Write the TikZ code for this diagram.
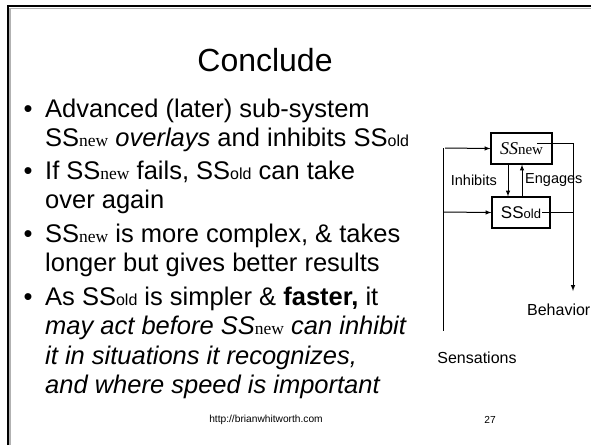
\documentclass[tikz,border=0pt]{standalone}
\usepackage{fontspec}
\setmainfont{Liberation Sans}
\newfontfamily\tnr{Liberation Serif}
\usetikzlibrary{arrows,positioning}
\newcommand{\fs}[1]{\fontsize{#1}{#1}\selectfont}
\newcommand{\SSnew}{SS{\tnr\upshape\fs{17.5}new}}
\newcommand{\SSold}{SS{\fs{16}old}}
\tikzset{
  line/.style={anchor=base west,inner sep=0pt,font=\fs{25.5}},
  dot/.style={anchor=base west,inner sep=0pt,font=\fs{25.5}},
  ssbox/.style={draw,line width=1.2pt,minimum height=31pt,inner sep=0pt},
  lab/.style={inner sep=0pt,font=\fs{14.5}},
  wire/.style={line width=1pt},
  >=latex
}

\begin{document}
\begin{tikzpicture}[x=1pt,y=-1pt]
\useasboundingbox (0,0) rectangle (591,445);
% slide frame
\draw[gray!60,line width=1.5pt] (10,445) -- (10,8.5) -- (591,8.5);
\draw[line width=2.2pt] (7.8,445) -- (7.8,6) -- (591,6);
\node (title) [anchor=base,inner sep=0pt,font=\fs{32}] at (265,71) {Conclude};

% bullets
\node (d1) [dot] at (23.5,117) {\textbullet};
\node (b1a) [line] at (45,117) {Advanced (later) sub-system};
\node (b1b) [line] at (45,146.5) {\SSnew{} \textit{overlays} and inhibits \SSold};
\node (d2) [dot] at (23.5,179) {\textbullet};
\node (b2a) [line] at (45,179) {If \SSnew{} fails, \SSold{} can take};
\node (b2b) [line] at (45,208.5) {over again};
\node (d3) [dot] at (23.5,242) {\textbullet};
\node (b3a) [line] at (45,242) {\SSnew{} is more complex, \& takes};
\node (b3b) [line] at (45,271.5) {longer but gives better results};
\node (d4) [dot] at (23.5,305) {\textbullet};
\node (b4a) [line] at (45,305) {As \SSold{} is simpler \& \textbf{faster,} it};
\node (b4b) [line] at (45,334.5) {\textit{may act before \SSnew{} can inhibit}};
\node (b4c) [line] at (45,364) {\textit{it in situations it recognizes,}};
\node (b4d) [line] at (45,393.5) {\textit{and where speed is important}};

% diagram
\node (new) [ssbox,minimum width=61pt] at (521.5,148.5) {{\tnr\itshape\fs{18}SS}{\tnr\fs{15}new}};
\node (old) [ssbox,minimum width=58pt] at (521,212.5) {{\fs{17}SS}{\fs{13}old}};
\node (inh) [lab,anchor=east] at (497,180) {Inhibits};
\node (eng) [lab,anchor=west] at (525,180) {Engages};
\node (sens) [inner sep=0pt,font=\fs{16}] at (477,358) {Sensations};
\node (beh) [inner sep=0pt,font=\fs{16},anchor=east] at (590.5,310) {Behavior};
\coordinate (top) at (445,148);
\coordinate (bot) at (443,331);
\coordinate (out) at (573,291);

\draw[wire] (443,148) -- (bot);
\draw[wire,->] (top) -- (new.west);
\draw[wire,->] (443,212) -- (old.west);
\draw[wire,->] (508,0 |- new.south) -- (508,0 |- old.north);
\draw[wire,->] (522,0 |- old.north) -- (522,0 |- new.south);
\draw[wire,->] (537,143) -- (573,143) -- (out);
\draw[wire] (542,212) -- (573,212);

% footer
\node (url) [inner sep=0pt,font=\fs{10.2}] at (266,420) {http://brianwhitworth.com};
\node (num) [inner sep=0pt,font=\fs{10.2}] at (490,420) {27};
\end{tikzpicture}
\end{document}
